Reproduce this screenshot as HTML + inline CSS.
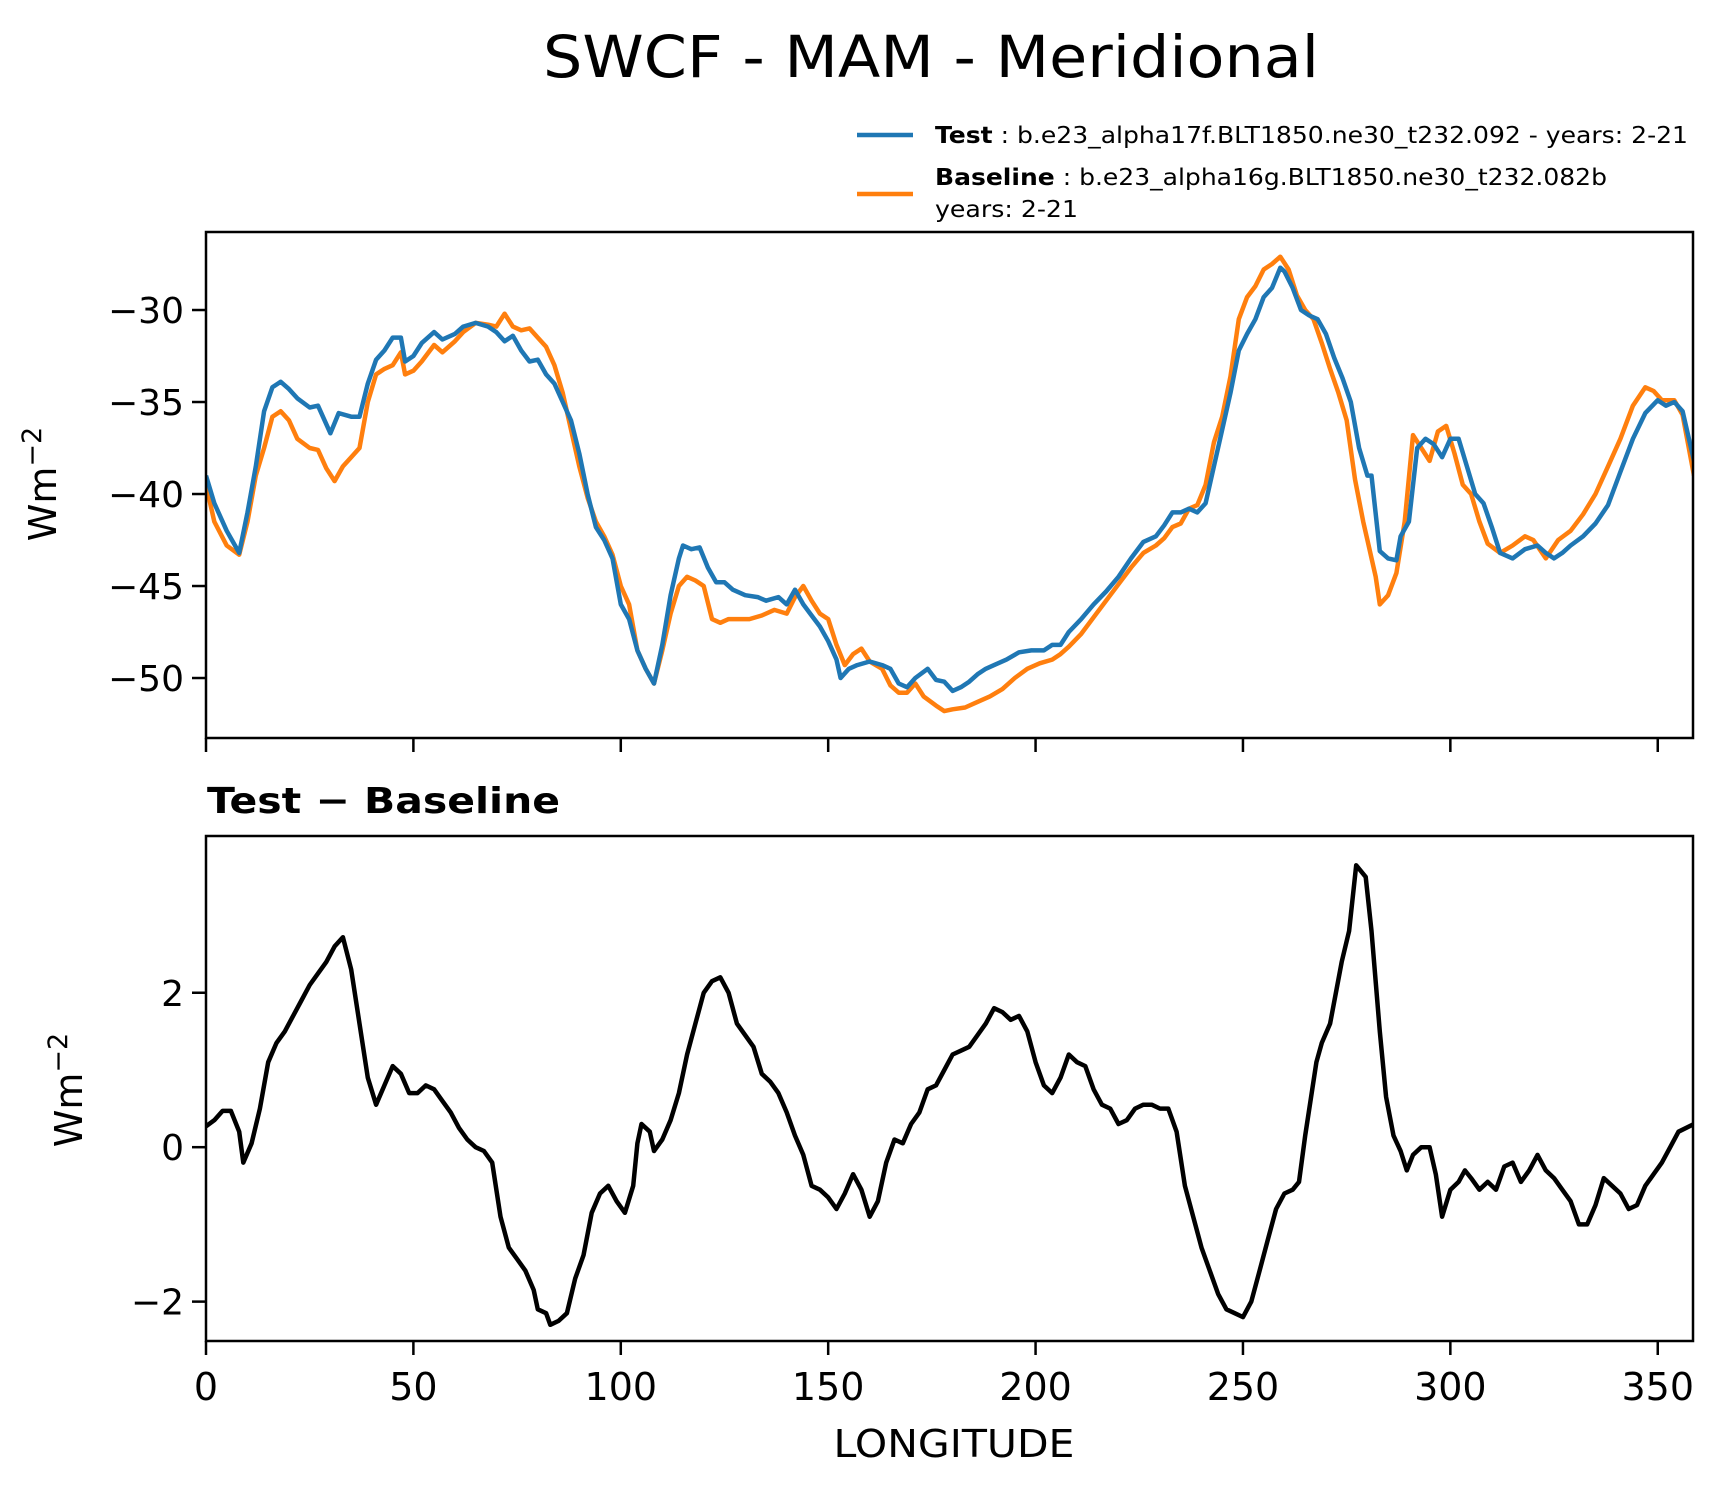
<!DOCTYPE html>
<html><head><meta charset="utf-8"><style>
html,body{margin:0;padding:0;background:#fff;}
svg{display:block;font-family:"DejaVu Sans","Liberation Sans",sans-serif;}
</style></head><body>
<svg id="chart" width="1726" height="1496" viewBox="0 0 1726 1496" xmlns="http://www.w3.org/2000/svg">
<rect width="1726" height="1496" fill="#fff"/>
<text x="931" y="77" font-size="58" text-anchor="middle" textLength="776" lengthAdjust="spacingAndGlyphs">SWCF - MAM - Meridional</text>
<g>
<line x1="857" y1="135" x2="913" y2="135" stroke="#1f77b4" stroke-width="4.5"/>
<text x="935" y="143" font-size="23" textLength="753" lengthAdjust="spacingAndGlyphs"><tspan font-weight="bold">Test</tspan> : b.e23_alpha17f.BLT1850.ne30_t232.092 - years: 2-21</text>
<line x1="857" y1="194" x2="913" y2="194" stroke="#ff7f0e" stroke-width="4.5"/>
<text x="935" y="185" font-size="23" textLength="672" lengthAdjust="spacingAndGlyphs"><tspan font-weight="bold">Baseline</tspan> : b.e23_alpha16g.BLT1850.ne30_t232.082b</text>
<text x="935" y="217" font-size="23" textLength="143" lengthAdjust="spacingAndGlyphs">years: 2-21</text>
</g>
<text x="207" y="813" font-size="36" font-weight="bold" textLength="353" lengthAdjust="spacingAndGlyphs">Test − Baseline</text>
<text x="954" y="1457" font-size="38" text-anchor="middle" textLength="241" lengthAdjust="spacingAndGlyphs">LONGITUDE</text>
<text transform="translate(56,484) rotate(-90)" font-size="38" text-anchor="middle">Wm<tspan font-size="27" dy="-15">−2</tspan></text>
<text transform="translate(82,1090) rotate(-90)" font-size="38" text-anchor="middle">Wm<tspan font-size="27" dy="-15">−2</tspan></text>
<g id="plots"></g>
</svg>
<script>
const lonTest=[0,2,5,8,10,12,14,16,18,20,22,25,27,30,32,35,37,39,41,43,45,47,48,50,52,55,57,60,62,65,68,70,72,74,76,78,80,82,84,86,88,90,92,94,96,98,100,102,104,106,108,110,112,114,115,117,119,121,123,125,127,130,133,135,138,140,142,144,146,148,150,152,153,155,157,160,163,165,167,169,171,174,176,178,180,182,184,186,188,190,193,196,199,202,204,206,208,211,214,217,220,223,226,229,231,233,235,237,239,241,243,245,247,249,251,253,255,257,259,260,262,264,266,268,270,272,274,276,278,280,281,283,285,287,288,290,292,294,296,298,300,302,304,306,308,310,312,315,318,321,323,325,327,329,332,335,338,341,344,347,350,352,354,356,358.75];
const testVals=[-39,-40.5,-42,-43.2,-41,-38.5,-35.5,-34.2,-33.9,-34.3,-34.8,-35.3,-35.2,-36.7,-35.6,-35.8,-35.8,-34,-32.7,-32.2,-31.5,-31.5,-32.8,-32.5,-31.8,-31.2,-31.6,-31.3,-30.9,-30.7,-30.9,-31.2,-31.7,-31.4,-32.2,-32.8,-32.7,-33.5,-34,-35,-36,-37.8,-40,-41.8,-42.5,-43.5,-46,-46.8,-48.5,-49.5,-50.3,-48.2,-45.5,-43.5,-42.8,-43,-42.9,-44,-44.8,-44.8,-45.2,-45.5,-45.6,-45.8,-45.6,-46,-45.2,-46,-46.6,-47.2,-48,-49,-50,-49.5,-49.3,-49.1,-49.3,-49.5,-50.3,-50.5,-50,-49.5,-50.1,-50.2,-50.7,-50.5,-50.2,-49.8,-49.5,-49.3,-49,-48.6,-48.5,-48.5,-48.2,-48.2,-47.5,-46.8,-46,-45.3,-44.5,-43.5,-42.6,-42.3,-41.7,-41,-41,-40.8,-41,-40.5,-38.5,-36.5,-34.5,-32.2,-31.3,-30.5,-29.3,-28.8,-27.7,-27.9,-28.8,-30,-30.3,-30.5,-31.3,-32.6,-33.7,-35,-37.5,-39,-39,-43.1,-43.5,-43.6,-42.3,-41.5,-37.5,-37,-37.3,-38,-37,-37,-38.5,-40,-40.5,-41.8,-43.2,-43.5,-43,-42.8,-43.2,-43.5,-43.2,-42.8,-42.3,-41.6,-40.6,-38.8,-37,-35.6,-34.9,-35.2,-35,-35.5,-38.2];
const lonBase=[0,2,5,8,10,12,14,16,18,20,22,25,27,29,31,33,35,37,39,41,43,45,47,48,50,52,55,57,60,62,65,68,70,72,74,76,78,80,82,84,86,88,90,92,94,96,98,100,102,104,106,108,110,112,114,116,118,120,122,124,126,128,131,134,137,140,142,144,146,148,150,152,154,156,158,160,163,165,167,169,171,173,176,178,180,183,186,189,192,195,198,201,204,206,208,211,214,217,220,223,226,229,231,233,235,237,239,241,243,245,247,249,251,253,255,257,259,261,263,265,267,269,271,273,275,277,279,280,282,283,285,287,289,291,293,295,297,299,301,303,305,307,309,312,315,318,320,323,326,329,332,335,338,341,344,347,349,351,354,356,358.75];
const baseVals=[-39.5,-41.5,-42.8,-43.3,-41.5,-39,-37.5,-35.8,-35.5,-36,-37,-37.5,-37.6,-38.6,-39.3,-38.5,-38,-37.5,-35,-33.5,-33.2,-33,-32.3,-33.5,-33.3,-32.8,-31.9,-32.3,-31.7,-31.2,-30.7,-30.8,-30.9,-30.2,-30.9,-31.1,-31,-31.5,-32,-33,-34.5,-36.5,-38.5,-40.2,-41.5,-42.3,-43.3,-45,-46,-48.5,-49.5,-50.3,-48.5,-46.5,-45,-44.5,-44.7,-45,-46.8,-47,-46.8,-46.8,-46.8,-46.6,-46.3,-46.5,-45.6,-45,-45.8,-46.5,-46.8,-48.2,-49.3,-48.7,-48.4,-49.1,-49.5,-50.4,-50.8,-50.8,-50.3,-51,-51.5,-51.8,-51.7,-51.6,-51.3,-51,-50.6,-50,-49.5,-49.2,-49,-48.7,-48.3,-47.6,-46.7,-45.8,-44.9,-44,-43.2,-42.8,-42.4,-41.8,-41.6,-40.8,-40.6,-39.5,-37.2,-35.8,-33.6,-30.5,-29.3,-28.7,-27.8,-27.5,-27.1,-27.8,-29.2,-30,-30.5,-31.8,-33.2,-34.5,-36,-39.2,-41.5,-42.5,-44.5,-46,-45.5,-44.3,-41.5,-36.8,-37.5,-38.2,-36.6,-36.3,-37.8,-39.5,-40,-41.5,-42.7,-43.2,-42.8,-42.3,-42.5,-43.5,-42.5,-42,-41.1,-40,-38.5,-37,-35.2,-34.2,-34.4,-34.9,-34.9,-35.7,-39];
const lonDiff=[0,2,4,6,8,9,11,13,15,17,19,21,23,25,27,29,31,33,35,37,39,41,43,45,47,49,51,53,55,57,59,61,63,65,67,69,71,73,75,77,79,80,82,83,85,87,89,91,93,95,97,99,101,103,104,105,107,108,110,112,114,116,118,120,122,124,126,128,130,132,134,136,138,140,142,144,146,148,150,152,154,156,158,160,162,164,166,168,170,172,174,176,178,180,182,184,186,188,190,192,194,196,198,200,202,204,206,208,210,212,214,216,218,220,222,224,226,228,230,232,234,236,238,240,242,244,246,248,250,252,254,256,258,260,262,263.5,265,267.7,269,271,273.8,275.6,277.3,279.6,281,283,284.5,286.3,288,289.5,291,293,295,296.5,298,300,302,303.5,305,307,309,311,313,315,317,319,321,323,325,327,329,331,333,335,337,339,341,343,345,347,349,351,353,355,358.75];
const diffVals=[0.27,0.35,0.47,0.47,0.2,-0.2,0.05,0.5,1.1,1.35,1.5,1.7,1.9,2.1,2.25,2.4,2.6,2.72,2.3,1.6,0.9,0.55,0.8,1.05,0.95,0.7,0.7,0.8,0.75,0.6,0.45,0.25,0.1,0,-0.05,-0.2,-0.9,-1.3,-1.45,-1.6,-1.85,-2.1,-2.15,-2.3,-2.25,-2.15,-1.7,-1.4,-0.85,-0.6,-0.5,-0.7,-0.85,-0.5,0.05,0.3,0.2,-0.05,0.1,0.35,0.7,1.2,1.6,2.0,2.15,2.2,2.0,1.6,1.45,1.3,0.95,0.85,0.7,0.45,0.15,-0.1,-0.5,-0.55,-0.65,-0.8,-0.6,-0.35,-0.55,-0.9,-0.7,-0.2,0.1,0.05,0.3,0.45,0.75,0.8,1.0,1.2,1.25,1.3,1.45,1.6,1.8,1.75,1.65,1.7,1.5,1.1,0.8,0.7,0.9,1.2,1.1,1.05,0.75,0.55,0.5,0.3,0.35,0.5,0.55,0.55,0.5,0.5,0.2,-0.5,-0.9,-1.3,-1.6,-1.9,-2.1,-2.15,-2.2,-2.0,-1.6,-1.2,-0.8,-0.6,-0.55,-0.45,0.15,1.1,1.35,1.6,2.4,2.8,3.65,3.5,2.8,1.5,0.65,0.15,-0.05,-0.3,-0.1,0,0,-0.35,-0.9,-0.55,-0.45,-0.3,-0.4,-0.55,-0.45,-0.55,-0.25,-0.2,-0.45,-0.3,-0.1,-0.3,-0.4,-0.55,-0.7,-1.0,-1.0,-0.75,-0.4,-0.5,-0.6,-0.8,-0.75,-0.5,-0.35,-0.2,0,0.2,0.3];
const xTicks=[0,50,100,150,200,250,300,350];
const topYTicks=[-30,-35,-40,-45,-50];
const botYTicks=[2,0,-2];

const NS='http://www.w3.org/2000/svg';
const g=document.getElementById('plots');
const L=206,R=1693,XMIN=0,XMAX=358.5;
const xs=v=>L+(v-XMIN)/(XMAX-XMIN)*(R-L);
function mk(tag,attrs){const e=document.createElementNS(NS,tag);for(const k in attrs)e.setAttribute(k,attrs[k]);g.appendChild(e);return e;}
function panel(name,top,bot,ymin,ymax,yTicks,labelX){
  const ys=v=>bot-(v-ymin)/(ymax-ymin)*(bot-top);
  for(const t of yTicks){
    const tk=mk('line',{x1:L-14,x2:L,y1:ys(t),y2:ys(t),stroke:'#000','stroke-width':2.5});
    
    
    const tx=mk('text',{x:L-22,y:ys(t)+13,'font-size':36,'text-anchor':'end'});
    tx.textContent=(t<0?'−':'')+Math.abs(t);
    
    
  }
  for(const t of xTicks){
    const tk=mk('line',{x1:xs(t),x2:xs(t),y1:bot,y2:bot+14,stroke:'#000','stroke-width':2.5});
    
    
    if(labelX){
      const tx=mk('text',{x:xs(t),y:bot+59,'font-size':38,'text-anchor':'middle'});
      tx.textContent=t;
      
      
    }
  }
  return ys;
}
function series(name,lons,vals,ys,color){
  const d=lons.map((l,i)=>(i?'L':'M')+xs(l).toFixed(1)+' '+ys(vals[i]).toFixed(1)).join(' ');
  const p=mk('path',{d:d,fill:'none',stroke:color,'stroke-width':4.5,'stroke-linejoin':'round','clip-path':'url(#clip-'+name.split('-')[0]+')'});
  
  
}
const defs=mk('defs',{});
defs.innerHTML='<clipPath id="clip-top"><rect x="206" y="232" width="1487" height="506"/></clipPath><clipPath id="clip-diff"><rect x="206" y="836" width="1487" height="505"/></clipPath>';
const ysTop=panel('top',232,738,-53.26,-25.76,topYTicks,false);
series('top-baseline-line',lonBase,baseVals,ysTop,'#ff7f0e');
series('top-test-line',lonTest,testVals,ysTop,'#1f77b4');
const ysBot=panel('bottom',836,1341,-2.51,4.03,botYTicks,true);
series('diff-line',lonDiff,diffVals,ysBot,'#000');
const f1=mk('rect',{x:L,y:232,width:R-L,height:506,fill:'none',stroke:'#000','stroke-width':2.5});


const f2=mk('rect',{x:L,y:836,width:R-L,height:505,fill:'none',stroke:'#000','stroke-width':2.5});


</script>
</body></html>
